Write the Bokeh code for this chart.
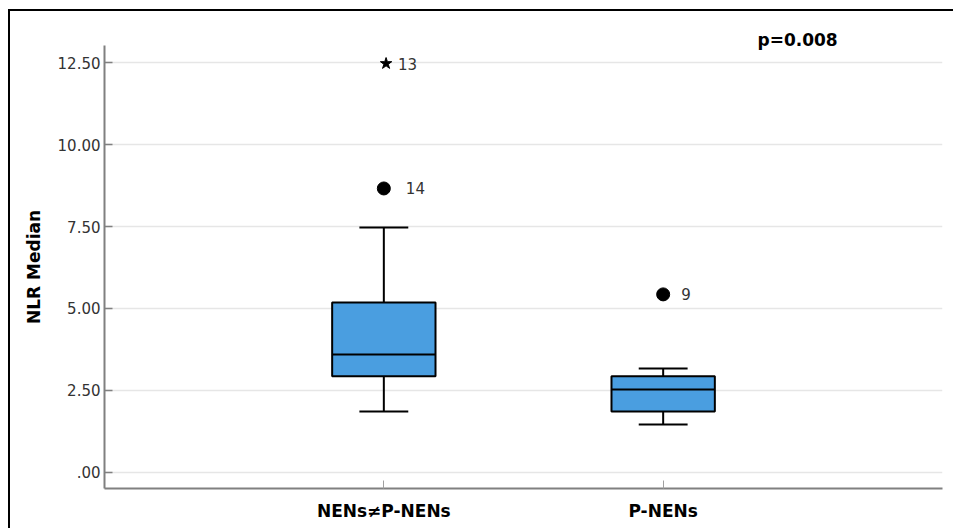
from bokeh.plotting import figure
from bokeh.models import FixedTicker, Title
from bokeh.core.properties import value
from bokeh.embed import file_html
from bokeh.resources import INLINE

# ---- data ----
categories = ["NENs\u2260P-NENs", "P-NENs"]
q1 = [2.93, 1.86]
medians = [3.60, 2.53]
q3 = [5.18, 2.93]
whisker_low = [1.86, 1.46]
whisker_high = [7.47, 3.17]

outlier_group = [0, 1]          # index into categories
outlier_values = [8.66, 5.43]
outlier_ids = ["14", "9"]

extreme_group = [0]
extreme_values = [12.47]
extreme_ids = ["13"]

y_ticks = [0.0, 2.5, 5.0, 7.5, 10.0, 12.5]
p_value_text = "p=0.008"
y_label = "NLR Median"

# ---- derived positions ----
xs = [i + 1 for i in range(len(categories))]
box_w = 0.37
cap_w = 0.175

FONT = "DejaVu Sans"

p = figure(width=945, height=519, x_range=(0, 3.0), y_range=(-0.49, 13.02),
           output_backend="svg", toolbar_location=None,
           min_border_left=94, min_border_right=13, min_border_top=34, min_border_bottom=42)
p.styles = {"border-left": "2px solid black", "border-top": "2px solid black",
            "margin-left": "8px", "margin-top": "9px"}
p.outline_line_color = None
p.background_fill_color = "white"
p.border_fill_color = "white"

# p-value annotation placed above the frame
p.title = Title(text=p_value_text, align="left", offset=653, standoff=-8,
                text_font=FONT, text_font_size="17px", text_font_style="bold",
                text_color="black")

# grid
p.xgrid.visible = False
p.ygrid.grid_line_color = "#e6e6e6"
p.ygrid.grid_line_width = 1.5
p.ygrid.ticker = FixedTicker(ticks=y_ticks)

# axes
p.yaxis.ticker = FixedTicker(ticks=y_ticks)
def fmt(v):
    s = "{:.2f}".format(v)
    return s[1:] if s.startswith("0") else s
p.yaxis.major_label_overrides = {v: fmt(v) for v in y_ticks}
p.xaxis.ticker = FixedTicker(ticks=xs)
p.xaxis.major_label_overrides = {x: c for x, c in zip(xs, categories)}

for ax in (p.xaxis[0], p.yaxis[0]):
    ax.axis_line_color = "#808080"
    ax.axis_line_width = 2
    ax.major_tick_out = 0
    ax.major_tick_in = 8
    ax.minor_tick_out = 0
    ax.minor_tick_in = 0
    ax.major_label_text_font = FONT

p.yaxis.major_tick_line_color = "#808080"
p.yaxis.major_tick_line_width = 1.5
p.yaxis.major_label_text_font_size = "15px"
p.yaxis.major_label_text_color = "#333333"
p.yaxis.major_label_standoff = 4
p.yaxis.axis_label = y_label
p.yaxis.axis_label_text_font = FONT
p.yaxis.axis_label_text_font_style = "bold"
p.yaxis.axis_label_text_font_size = "17px"
p.yaxis.axis_label_text_color = "black"
p.yaxis.axis_label_standoff = 11

p.xaxis.major_tick_line_color = "#a0a0a0"
p.xaxis.major_tick_line_width = 1
p.xaxis.major_label_text_font_size = "17px"
p.xaxis.major_label_text_font_style = "bold"
p.xaxis.major_label_text_color = "black"
p.xaxis.major_label_standoff = 12

# whiskers
p.segment(x0=xs, x1=xs, y0=q3, y1=whisker_high, line_color="black", line_width=2)
p.segment(x0=xs, x1=xs, y0=q1, y1=whisker_low, line_color="black", line_width=2)
p.segment(x0=[x - cap_w / 2 for x in xs], x1=[x + cap_w / 2 for x in xs],
          y0=whisker_high, y1=whisker_high, line_color="black", line_width=2)
p.segment(x0=[x - cap_w / 2 for x in xs], x1=[x + cap_w / 2 for x in xs],
          y0=whisker_low, y1=whisker_low, line_color="black", line_width=2)

# boxes
p.vbar(x=xs, width=box_w, bottom=q1, top=q3, fill_color="#4a9ee0",
       line_color="black", line_width=2)
p.segment(x0=[x - box_w / 2 for x in xs], x1=[x + box_w / 2 for x in xs],
          y0=medians, y1=medians, line_color="black", line_width=2)

# outliers
ox = [xs[g] for g in outlier_group]
p.scatter(x=ox, y=outlier_values, marker="circle", size=13, fill_color="black", line_color="black")
ex = [xs[g] + 0.008 for g in extreme_group]
p.scatter(x=ex, y=extreme_values, marker="star", size=12, fill_color="black", line_color="black")

label_offsets = [22, 18]
for xv, yv, t, off in zip(ox, outlier_values, outlier_ids, label_offsets):
    p.text(x=[xv], y=[yv], text=[t], x_offset=off, text_font=value(FONT),
           text_font_size="15px", text_color="#333333", text_baseline="middle")
for xv, yv, t in zip(ex, extreme_values, extreme_ids):
    p.text(x=[xv], y=[yv], text=[t], x_offset=12, text_font=value(FONT),
           text_font_size="15px", text_color="#333333", text_baseline="middle")

open("out.html", "w").write(file_html(p, INLINE))
